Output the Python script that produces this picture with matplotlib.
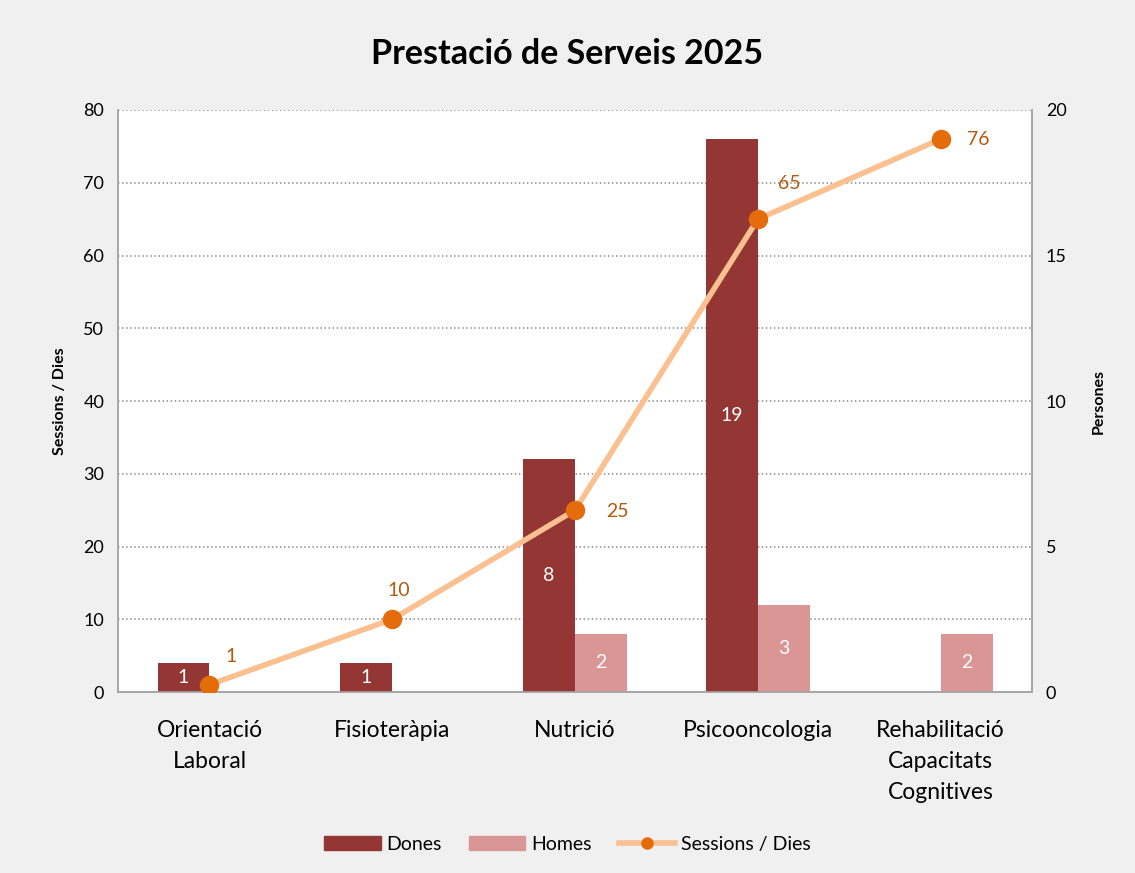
import matplotlib.pyplot as plt
import numpy as np
from matplotlib.patches import Patch
from matplotlib.lines import Line2D

plt.rcParams['font.family'] = ['Lato', 'DejaVu Sans']

categories = ['Orientació\nLaboral', 'Fisioteràpia', 'Nutrició', 'Psicooncologia',
              'Rehabilitació\nCapacitats\nCognitives']
dones = [1, 1, 8, 19, 0]
homes = [0, 0, 2, 3, 2]
sessions = [1, 10, 25, 65, 76]
# label placement (pixels from the marker), as Excel put them
lab_off = [(22, 28), (7, 29), (42, -1), (31, 36), (38, 0)]

c_dones = '#943634'
c_homes = '#d99694'
c_line = '#fac090'
c_marker = '#e46c0a'
c_lab = '#b35a0c'

fig = plt.figure(figsize=(11.35, 8.73), dpi=100)
fig.patch.set_facecolor('#f0f0f0')
ax = fig.add_axes([0.104, 0.2073, 0.8053, 0.6667])
ax2 = ax.twinx()

x = np.arange(len(categories))
w = 0.284

# bars on the right axis (Persones)
for i in x:
    if dones[i] > 0:
        ax2.bar(i - w / 2, dones[i], w, color=c_dones, zorder=3)
        ax2.text(i - w / 2, dones[i] / 2, str(dones[i]),
                 ha='center', va='center', color='white', fontsize=14, zorder=4)
    if homes[i] > 0:
        ax2.bar(i + w / 2, homes[i], w, color=c_homes, zorder=3)
        ax2.text(i + w / 2, homes[i] / 2, str(homes[i]),
                 ha='center', va='center', color='white', fontsize=14, zorder=4)

# line on the left axis
ax.plot(x, sessions, color=c_line, lw=4, zorder=5)
ax.plot(x, sessions, 'o', color=c_marker, ms=13, zorder=6)
for i, v in enumerate(sessions):
    ax.annotate(str(v), (i, v), xytext=lab_off[i], textcoords='offset pixels',
                color=c_lab, fontsize=14, ha='center', va='center')

ax.set_zorder(2)
ax.patch.set_visible(False)
ax2.set_zorder(1)
ax2.patch.set_visible(True)
ax2.set_facecolor('white')

ax.set_xlim(-0.5, 4.5)
ax.set_ylim(0, 80)
ax2.set_ylim(0, 20)
ax.set_yticks(range(0, 81, 10))
ax2.set_yticks(range(0, 21, 5))
ax2.set_yticks(np.arange(0, 20.1, 2.5), minor=True)
ax.set_xticks(x)
ax.set_xticklabels(categories, fontsize=16.5, linespacing=1.6)
ax.tick_params(axis='x', length=0, pad=20)
ax.tick_params(axis='y', length=0, labelsize=13, pad=10)
ax2.tick_params(axis='y', which='both', length=0, labelsize=13, pad=10)

ax2.grid(axis='y', which='both', ls=':', color='#8c8c8c', lw=1.1, zorder=0)
ax2.set_axisbelow(True)

for a in (ax, ax2):
    a.spines['top'].set_visible(False)
    for s in ('left', 'bottom', 'right'):
        a.spines[s].set_color('#a6a6a6')
        a.spines[s].set_linewidth(1.2)

ax.set_ylabel('Sessions / Dies', fontsize=11.5, fontweight='bold', labelpad=12)
ax2.set_ylabel('Persones', fontsize=11.5, fontweight='bold', labelpad=18)

fig.suptitle('Prestació de Serveis 2025', fontsize=24.5, fontweight='bold', y=0.956)

handles = [Patch(color=c_dones), Patch(color=c_homes),
           Line2D([0], [0], color=c_line, lw=4, marker='o', ms=8,
                  markerfacecolor=c_marker, markeredgecolor=c_marker)]
fig.legend(handles, ['Dones', 'Homes', 'Sessions / Dies'], loc='center',
           bbox_to_anchor=(0.5, 0.033), ncol=3, frameon=False, fontsize=14,
           handlelength=2.9, handleheight=0.7, columnspacing=1.4, handletextpad=0.3)

fig.savefig('out.png', dpi=100, facecolor=fig.get_facecolor())
